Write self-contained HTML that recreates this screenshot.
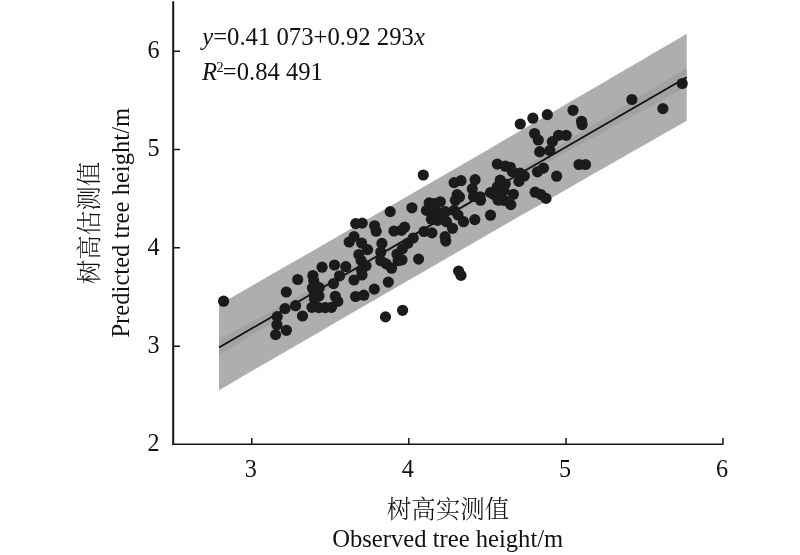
<!DOCTYPE html>
<html><head><meta charset="utf-8"><style>
html,body{margin:0;padding:0;background:#fff;}
svg{display:block;}
text{font-family:"Liberation Serif","Noto Serif CJK SC",serif;fill:#111;}
.zh{font-family:"Noto Serif CJK SC","Liberation Serif",serif;font-weight:300;}
</style></head><body>
<svg width="800" height="555" viewBox="0 0 800 555">
<rect width="800" height="555" fill="#fff"/>
<polygon points="219.00,304.66 230.69,297.95 242.38,291.24 254.08,284.52 265.77,277.80 277.46,271.08 289.15,264.35 300.85,257.63 312.54,250.90 324.23,244.17 335.93,237.43 347.62,230.70 359.31,223.96 371.00,217.22 382.69,210.47 394.39,203.73 406.08,196.98 417.77,190.23 429.46,183.48 441.16,176.72 452.85,169.96 464.54,163.20 476.24,156.43 487.93,149.65 499.62,142.87 511.31,136.09 523.00,129.30 534.70,122.51 546.39,115.71 558.08,108.91 569.77,102.10 581.47,95.29 593.16,88.48 604.85,81.66 616.55,74.83 628.24,68.01 639.93,61.17 651.62,54.34 663.32,47.49 675.01,40.65 686.70,33.80 686.70,120.72 675.01,127.38 663.32,134.04 651.62,140.71 639.93,147.38 628.24,154.06 616.55,160.74 604.85,167.43 593.16,174.11 581.47,180.81 569.77,187.51 558.08,194.21 546.39,200.92 534.70,207.63 523.00,214.34 511.31,221.07 499.62,227.79 487.93,234.52 476.24,241.25 464.54,247.99 452.85,254.74 441.16,261.49 429.46,268.24 417.77,274.99 406.08,281.75 394.39,288.51 382.69,295.28 371.00,302.04 359.31,308.81 347.62,315.58 335.93,322.35 324.23,329.13 312.54,335.90 300.85,342.68 289.15,349.47 277.46,356.25 265.77,363.04 254.08,369.83 242.38,376.62 230.69,383.41 219.00,390.21" fill="#aeaeae"/>
<polygon points="219.00,339.57 230.69,333.22 242.38,326.87 254.08,320.52 265.77,314.17 277.46,307.81 289.15,301.45 300.85,295.08 312.54,288.72 324.23,282.34 335.93,275.95 347.62,269.56 359.31,263.15 371.00,256.71 382.69,250.26 394.39,243.76 406.08,237.21 417.77,230.59 429.46,223.89 441.16,217.10 452.85,210.22 464.54,203.28 476.24,196.27 487.93,189.22 499.62,182.14 511.31,175.04 523.00,167.93 534.70,160.80 546.39,153.66 558.08,146.52 569.77,139.37 581.47,132.21 593.16,125.06 604.85,117.90 616.55,110.73 628.24,103.57 639.93,96.40 651.62,89.23 663.32,82.06 675.01,74.89 686.70,67.72 686.70,86.80 675.01,93.14 663.32,99.47 651.62,105.81 639.93,112.15 628.24,118.50 616.55,124.84 604.85,131.19 593.16,137.54 581.47,143.89 569.77,150.24 558.08,156.60 546.39,162.96 534.70,169.34 523.00,175.72 511.31,182.11 499.62,188.52 487.93,194.95 476.24,201.41 464.54,207.91 452.85,214.47 441.16,221.11 429.46,227.82 417.77,234.63 406.08,241.52 394.39,248.48 382.69,255.50 371.00,262.54 359.31,269.62 347.62,276.72 335.93,283.83 324.23,290.96 312.54,298.09 300.85,305.23 289.15,312.37 277.46,319.52 265.77,326.67 254.08,333.83 242.38,340.98 230.69,348.14 219.00,355.30" fill="#a2a2a2"/>
<line x1="219.00" y1="347.44" x2="686.70" y2="77.26" stroke="#111" stroke-width="1.8"/>
<g fill="#1c1a1b">
<circle cx="223.6" cy="301.2" r="5.6"/>
<circle cx="285.0" cy="308.6" r="5.6"/>
<circle cx="297.7" cy="279.5" r="5.6"/>
<circle cx="322.1" cy="267.2" r="5.6"/>
<circle cx="334.5" cy="265.0" r="5.6"/>
<circle cx="339.6" cy="275.8" r="5.6"/>
<circle cx="333.5" cy="283.6" r="5.6"/>
<circle cx="355.7" cy="223.6" r="5.6"/>
<circle cx="362.2" cy="223.1" r="5.6"/>
<circle cx="374.6" cy="225.8" r="5.6"/>
<circle cx="376.2" cy="231.2" r="5.6"/>
<circle cx="354.0" cy="236.6" r="5.6"/>
<circle cx="349.2" cy="242.0" r="5.6"/>
<circle cx="361.6" cy="243.1" r="5.6"/>
<circle cx="367.6" cy="249.6" r="5.6"/>
<circle cx="358.9" cy="254.5" r="5.6"/>
<circle cx="361.1" cy="260.4" r="5.6"/>
<circle cx="366.0" cy="265.8" r="5.6"/>
<circle cx="361.6" cy="270.0" r="5.6"/>
<circle cx="362.0" cy="275.0" r="5.6"/>
<circle cx="381.9" cy="243.4" r="5.6"/>
<circle cx="380.8" cy="252.0" r="5.6"/>
<circle cx="380.8" cy="260.7" r="5.6"/>
<circle cx="386.2" cy="263.9" r="5.6"/>
<circle cx="391.6" cy="268.2" r="5.6"/>
<circle cx="402.6" cy="310.3" r="5.6"/>
<circle cx="394.0" cy="231.0" r="5.6"/>
<circle cx="401.4" cy="230.4" r="5.6"/>
<circle cx="404.6" cy="227.2" r="5.6"/>
<circle cx="390.2" cy="211.6" r="5.6"/>
<circle cx="411.9" cy="207.8" r="5.6"/>
<circle cx="413.2" cy="238.0" r="5.6"/>
<circle cx="407.8" cy="243.4" r="5.6"/>
<circle cx="402.4" cy="248.8" r="5.6"/>
<circle cx="397.0" cy="254.2" r="5.6"/>
<circle cx="398.1" cy="260.7" r="5.6"/>
<circle cx="418.6" cy="259.1" r="5.6"/>
<circle cx="424.0" cy="231.5" r="5.6"/>
<circle cx="429.2" cy="202.9" r="5.6"/>
<circle cx="440.3" cy="201.8" r="5.6"/>
<circle cx="426.5" cy="210.4" r="5.6"/>
<circle cx="431.4" cy="219.2" r="5.6"/>
<circle cx="445.3" cy="211.6" r="5.6"/>
<circle cx="454.1" cy="210.4" r="5.6"/>
<circle cx="446.5" cy="221.7" r="5.6"/>
<circle cx="452.5" cy="228.3" r="5.6"/>
<circle cx="463.5" cy="221.7" r="5.6"/>
<circle cx="474.8" cy="219.6" r="5.6"/>
<circle cx="490.5" cy="215.2" r="5.6"/>
<circle cx="445.1" cy="236.7" r="5.6"/>
<circle cx="445.8" cy="241.1" r="5.6"/>
<circle cx="431.9" cy="232.9" r="5.6"/>
<circle cx="436.3" cy="211.4" r="5.6"/>
<circle cx="443.9" cy="214.0" r="5.6"/>
<circle cx="437.6" cy="220.3" r="5.6"/>
<circle cx="434.0" cy="203.5" r="5.6"/>
<circle cx="454.1" cy="182.6" r="5.6"/>
<circle cx="461.0" cy="180.7" r="5.6"/>
<circle cx="457.2" cy="194.6" r="5.6"/>
<circle cx="455.4" cy="200.3" r="5.6"/>
<circle cx="490.5" cy="192.5" r="5.6"/>
<circle cx="496.8" cy="196.3" r="5.6"/>
<circle cx="498.0" cy="200.0" r="5.6"/>
<circle cx="458.6" cy="271.1" r="5.6"/>
<circle cx="497.3" cy="164.1" r="5.6"/>
<circle cx="505.4" cy="166.2" r="5.6"/>
<circle cx="510.3" cy="167.3" r="5.6"/>
<circle cx="512.4" cy="171.6" r="5.6"/>
<circle cx="520.0" cy="173.2" r="5.6"/>
<circle cx="524.3" cy="176.0" r="5.6"/>
<circle cx="518.9" cy="181.4" r="5.6"/>
<circle cx="535.1" cy="192.2" r="5.6"/>
<circle cx="541.0" cy="194.6" r="5.6"/>
<circle cx="546.0" cy="198.4" r="5.6"/>
<circle cx="543.5" cy="168.1" r="5.6"/>
<circle cx="556.6" cy="176.2" r="5.6"/>
<circle cx="520.3" cy="124.0" r="5.6"/>
<circle cx="547.3" cy="114.6" r="5.6"/>
<circle cx="539.7" cy="151.7" r="5.6"/>
<circle cx="549.8" cy="150.5" r="5.6"/>
<circle cx="552.3" cy="141.6" r="5.6"/>
<circle cx="558.6" cy="135.3" r="5.6"/>
<circle cx="566.2" cy="135.3" r="5.6"/>
<circle cx="573.0" cy="110.3" r="5.6"/>
<circle cx="631.9" cy="99.5" r="5.6"/>
<circle cx="662.9" cy="108.6" r="5.6"/>
<circle cx="682.2" cy="83.5" r="5.6"/>
<circle cx="312.9" cy="275.5" r="5.6"/>
<circle cx="313.8" cy="281.0" r="5.6"/>
<circle cx="312.4" cy="288.1" r="5.6"/>
<circle cx="319.2" cy="287.7" r="5.6"/>
<circle cx="314.2" cy="295.0" r="5.6"/>
<circle cx="314.5" cy="299.0" r="5.6"/>
<circle cx="312.0" cy="307.3" r="5.6"/>
<circle cx="318.9" cy="307.6" r="5.6"/>
<circle cx="325.2" cy="307.6" r="5.6"/>
<circle cx="331.5" cy="307.3" r="5.6"/>
<circle cx="335.3" cy="296.3" r="5.6"/>
<circle cx="337.8" cy="301.4" r="5.6"/>
<circle cx="402.0" cy="259.8" r="5.6"/>
<circle cx="581.5" cy="121.3" r="5.6"/>
<circle cx="582.1" cy="124.6" r="5.6"/>
<circle cx="423.3" cy="175.0" r="5.6"/>
<circle cx="500.2" cy="180.1" r="5.6"/>
<circle cx="505.3" cy="184.0" r="5.6"/>
<circle cx="497.4" cy="186.6" r="5.6"/>
<circle cx="493.6" cy="194.3" r="5.6"/>
<circle cx="499.2" cy="200.0" r="5.6"/>
<circle cx="513.4" cy="194.3" r="5.6"/>
<circle cx="510.8" cy="204.6" r="5.6"/>
<circle cx="503.8" cy="190.5" r="5.6"/>
<circle cx="504.5" cy="200.5" r="5.6"/>
<circle cx="475.1" cy="179.7" r="5.6"/>
<circle cx="472.3" cy="188.7" r="5.6"/>
<circle cx="473.5" cy="196.5" r="5.6"/>
<circle cx="480.0" cy="196.8" r="5.6"/>
<circle cx="480.5" cy="200.2" r="5.6"/>
<circle cx="459.5" cy="197.0" r="5.6"/>
<circle cx="388.3" cy="282.1" r="5.6"/>
<circle cx="374.3" cy="289.1" r="5.6"/>
<circle cx="319.0" cy="296.0" r="5.6"/>
<circle cx="385.5" cy="316.9" r="5.6"/>
<circle cx="461.0" cy="275.4" r="5.6"/>
<circle cx="579.0" cy="164.5" r="5.6"/>
<circle cx="585.5" cy="164.5" r="5.6"/>
<circle cx="302.5" cy="316.0" r="5.6"/>
<circle cx="286.3" cy="292.0" r="5.6"/>
<circle cx="295.6" cy="305.7" r="5.6"/>
<circle cx="277.2" cy="316.6" r="5.6"/>
<circle cx="276.9" cy="324.8" r="5.6"/>
<circle cx="275.6" cy="334.6" r="5.6"/>
<circle cx="286.4" cy="330.3" r="5.6"/>
<circle cx="345.8" cy="266.7" r="5.6"/>
<circle cx="355.6" cy="296.5" r="5.6"/>
<circle cx="363.8" cy="295.2" r="5.6"/>
<circle cx="354.0" cy="280.0" r="5.6"/>
<circle cx="458.0" cy="215.0" r="5.6"/>
<circle cx="537.5" cy="171.8" r="5.6"/>
<circle cx="532.9" cy="118.2" r="5.6"/>
<circle cx="534.6" cy="133.5" r="5.6"/>
<circle cx="538.3" cy="140.0" r="5.6"/>
</g>
<g stroke="#161616" fill="none">
<path d="M173.2,1.2 V445" stroke-width="2"/>
<path d="M172.2,444.2 H723.5" stroke-width="1.6"/>
</g>
<g stroke="#161616" stroke-width="1.5" fill="none">
<path d="M251.8,444 v-6 M408.8,444 v-6 M566.0,444 v-6 M723.0,444 v-6"/>
<path d="M174,346.2 h6 M174,247.8 h6 M174,149.5 h6 M174,51.2 h6"/>
</g>
<g font-size="25.5" text-anchor="end">
<text transform="translate(159.7,57.6) scale(0.95,1)">6</text>
<text transform="translate(159.7,156.4) scale(0.95,1)">5</text>
<text transform="translate(159.7,254.7) scale(0.95,1)">4</text>
<text transform="translate(159.7,353.1) scale(0.95,1)">3</text>
<text transform="translate(159.7,451.4) scale(0.95,1)">2</text>
</g>
<g font-size="25.5" text-anchor="middle">
<text transform="translate(250.8,477) scale(0.95,1)">3</text>
<text transform="translate(407.8,477) scale(0.95,1)">4</text>
<text transform="translate(565.0,477) scale(0.95,1)">5</text>
<text transform="translate(722.0,477) scale(0.95,1)">6</text>
</g>
<text transform="translate(202.2,44.6) scale(0.988,1)" font-size="25"><tspan font-style="italic">y</tspan>=0.41 073+0.92 293<tspan font-style="italic">x</tspan></text>
<text transform="translate(202,79.6) scale(0.985,1)" font-size="25"><tspan font-style="italic">R</tspan><tspan font-size="14.5" dx="-0.6" dy="-8">2</tspan><tspan dx="-0.8" dy="8">=0.84 491</tspan></text>
<text class="zh" x="448" y="518" font-size="24.5" text-anchor="middle">树高实测值</text>
<text transform="translate(447.7,547.3) scale(0.966,1)" font-size="25.5" text-anchor="middle">Observed tree height/m</text>
<text class="zh" transform="translate(98,223) rotate(-90)" font-size="24.5" text-anchor="middle">树高估测值</text>
<text transform="translate(128.6,222.7) rotate(-90) scale(0.966,1)" font-size="25.5" text-anchor="middle">Predicted tree height/m</text>
</svg>
</body></html>
